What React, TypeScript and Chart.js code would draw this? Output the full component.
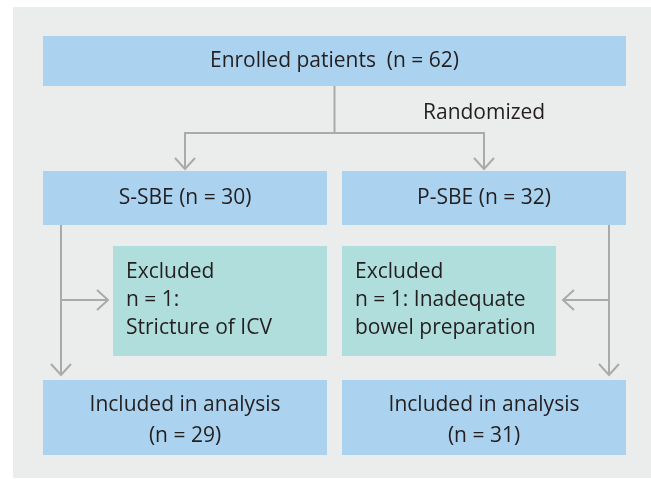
import React, { useEffect, useRef } from "react";
import { Chart, registerables } from "chart.js";

Chart.register(...registerables);

const W = 651;
const H = 479;

// ---- data ----
const enrolledLabel = "Enrolled patients";
const enrolledN = 62;
const randomLabel = "Randomized";
const groups = ["S-SBE", "P-SBE"];
const groupN = [30, 32];
const excludedLabel = "Excluded";
const excludedN = [1, 1];
const reasonInline = ["", "Inadequate"];
const reasonNext = ["Stricture of ICV", "bowel preparation"];
const includedLabel = "Included in analysis";
const includedN = [29, 31];

// ---- layout (in chart units) ----
const panel = { x0: 13, x1: 651, y0: 7, y1: 478 };
const topBox = { x0: 43, x1: 626, y0: 36, y1: 86 };
const colX0 = [43, 342];
const colX1 = [327, 626];
const groupY = [171, 225];
const exclX0 = [113, 342];
const exclX1 = [327, 556];
const exclY = [246, 356];
const inclY = [380, 455];
const splitY = 133;
const sideX = [61, 609];
const branchY = 300;
const branchTip = [108, 563];
const textX = [126, 355];

const COLORS = {
  panel: "#ebecec",
  blue: "#abd3ef",
  teal: "#b0dedc",
  line: "#aaaaaa",
  text: "#231f20",
};
const FONT = '21px "Open Sans", sans-serif';

const flowPlugin = {
  id: "flow",
  afterDraw(chart: any) {
    const ctx = chart.ctx as CanvasRenderingContext2D;
    const xs = chart.scales.x;
    const ys = chart.scales.y;
    const px = (v: number) => xs.getPixelForValue(v);
    const py = (v: number) => ys.getPixelForValue(v);

    const rect = (x0: number, x1: number, y0: number, y1: number, c: string) => {
      ctx.fillStyle = c;
      ctx.fillRect(px(x0), py(y0), px(x1) - px(x0), py(y1) - py(y0));
    };
    const line = (pts: number[][]) => {
      ctx.beginPath();
      pts.forEach((p, i) => {
        const X = px(p[0]);
        const Y = py(p[1]);
        if (i === 0) ctx.moveTo(X, Y);
        else ctx.lineTo(X, Y);
      });
      ctx.stroke();
    };
    const head = (x: number, y: number, dir: string) => {
      const a = 10;
      const b = 11;
      if (dir === "down") line([[x - a, y - b], [x, y], [x + a, y - b]]);
      if (dir === "right") line([[x - b, y - a], [x, y], [x - b, y + a]]);
      if (dir === "left") line([[x + b, y - a], [x, y], [x + b, y + a]]);
    };
    const text = (s: string, x: number, y: number, align: CanvasTextAlign) => {
      ctx.fillStyle = COLORS.text;
      ctx.font = FONT;
      ctx.textAlign = align;
      ctx.textBaseline = "middle";
      ctx.fillText(s, px(x), py(y));
    };

    ctx.save();
    rect(panel.x0, panel.x1, panel.y0, panel.y1, COLORS.panel);

    // connectors
    ctx.strokeStyle = COLORS.line;
    ctx.lineWidth = 2;
    ctx.lineCap = "butt";
    ctx.lineJoin = "miter";
    const midTop = (topBox.x0 + topBox.x1) / 2;
    const cx = [0, 1].map((i) => (colX0[i] + colX1[i]) / 2);
    line([[midTop, topBox.y1], [midTop, splitY]]);
    line([[cx[0], groupY[0] - 2], [cx[0], splitY], [cx[1], splitY], [cx[1], groupY[0] - 2]]);
    head(cx[0], groupY[0] - 2, "down");
    head(cx[1], groupY[0] - 2, "down");
    for (let i = 0; i < 2; i++) {
      line([[sideX[i], groupY[1]], [sideX[i], inclY[0] - 5]]);
      head(sideX[i], inclY[0] - 5, "down");
      line([[sideX[i], branchY], [branchTip[i], branchY]]);
      head(branchTip[i], branchY, i === 0 ? "right" : "left");
    }

    // boxes
    rect(topBox.x0, topBox.x1, topBox.y0, topBox.y1, COLORS.blue);
    for (let i = 0; i < 2; i++) {
      rect(colX0[i], colX1[i], groupY[0], groupY[1], COLORS.blue);
      rect(exclX0[i], exclX1[i], exclY[0], exclY[1], COLORS.teal);
      rect(colX0[i], colX1[i], inclY[0], inclY[1], COLORS.blue);
    }

    // texts
    text(`${enrolledLabel}  (n = ${enrolledN})`, midTop, (topBox.y0 + topBox.y1) / 2, "center");
    text(randomLabel, 423, 113, "left");
    for (let i = 0; i < 2; i++) {
      text(`${groups[i]} (n = ${groupN[i]})`, cx[i], (groupY[0] + groupY[1]) / 2, "center");
      text(excludedLabel, textX[i], 272, "left");
      const inl = reasonInline[i] ? ` ${reasonInline[i]}` : "";
      text(`n = ${excludedN[i]}:${inl}`, textX[i], 300, "left");
      text(reasonNext[i], textX[i], 328, "left");
      text(includedLabel, cx[i], 405, "center");
      text(`(n = ${includedN[i]})`, cx[i], 436, "center");
    }
    ctx.restore();
  },
};

export default function App() {
  const ref = useRef<HTMLCanvasElement | null>(null);
  useEffect(() => {
    if (!ref.current) return;
    const chart = new Chart(ref.current, {
      type: "scatter",
      data: { datasets: [{ data: [], pointRadius: 0 }] },
      options: {
        animation: false,
        responsive: false,
        maintainAspectRatio: false,
        layout: { padding: 0 },
        events: [],
        plugins: { legend: { display: false }, tooltip: { enabled: false } },
        scales: {
          x: { type: "linear", min: 0, max: W, display: false },
          y: { type: "linear", min: 0, max: H, reverse: true, display: false },
        },
      },
      plugins: [flowPlugin],
    });
    return () => chart.destroy();
  }, []);
  return (
    <div style={{ position: "absolute", left: 0, top: 0, width: W, height: H, background: "#ffffff" }}>
      <canvas ref={ref} width={W} height={H} style={{ width: W, height: H, display: "block" }} />
    </div>
  );
}
